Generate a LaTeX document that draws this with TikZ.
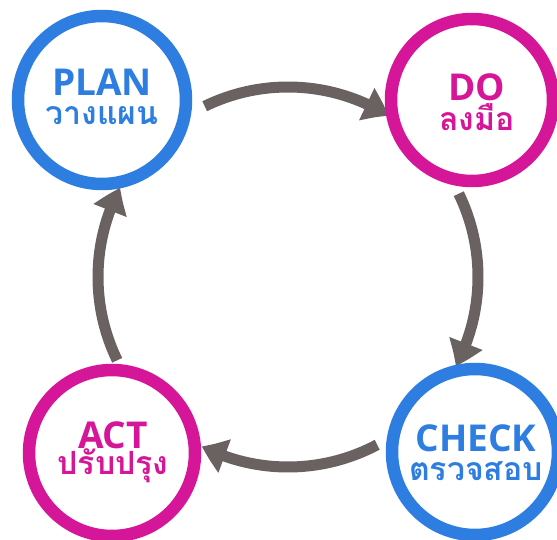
\documentclass[tikz,border=0pt]{standalone}
\usepackage{fontspec}
\setmainfont{Open Sans}
\newfontfamily\thaifont[Script=Thai]{Loma}
\usetikzlibrary{arrows.meta,calc,bending}
\definecolor{pblue}{RGB}{46,125,224}
\definecolor{pmag}{RGB}{214,22,152}
\definecolor{agray}{RGB}{106,97,97}
\begin{document}
\begin{tikzpicture}[x=1pt,y=-1pt,
  ring/.style={circle,line width=12.5pt,fill=white,minimum size=#1,inner sep=0pt},
  eng/.style={font=\fontsize{37}{37}\selectfont\bfseries,inner sep=0pt},
  thai/.style={font=\thaifont\fontsize{32}{32}\selectfont\bfseries,inner sep=0pt},
  arr/.style={draw=agray,line width=11pt,-{Triangle[length=25pt,width=34pt,bend]}}]
\useasboundingbox (0,0) rectangle (557,540);
\coordinate (c) at (288,277);
% arrows (y axis points down, so angles are mirrored)
\draw[arr] ($(c)+(-116:190)$) arc[start angle=-116,end angle=-58,radius=190];
\draw[arr] ($(c)+(-26:190)$) arc[start angle=-26,end angle=28,radius=190];
\draw[arr] ($(c)+(62:190)$) arc[start angle=62,end angle=117,radius=190];
\draw[arr] ($(c)+(154:190)$) arc[start angle=154,end angle=208,radius=190];
% circles
\node[ring=168pt,draw=pblue] (plan) at (102,100) {};
\node[ring=162pt,draw=pmag] (do) at (472,100) {};
\node[ring=166pt,draw=pblue] (check) at (475,452) {};
\node[ring=166pt,draw=pmag] (act) at (112,453) {};
% texts
\node[eng,text=pblue] (planE) at (102,82) {PLAN};
\node[thai,text=pblue] (planT) at (102,116) {วางแผน};
\node[eng,text=pmag] (doE) at (477,87) {DO};
\node[thai,text=pmag] (doT) at (477,117) {ลงมือ};
\node[eng,text=pblue] (checkE) at (476,438) {CHECK};
\node[thai,text=pblue] (checkT) at (476,471) {ตรวจสอบ};
\node[eng,text=pmag] (actE) at (113,435) {ACT};
\node[thai,text=pmag] (actT) at (113,466) {ปรับปรุง};
\end{tikzpicture}
\end{document}
